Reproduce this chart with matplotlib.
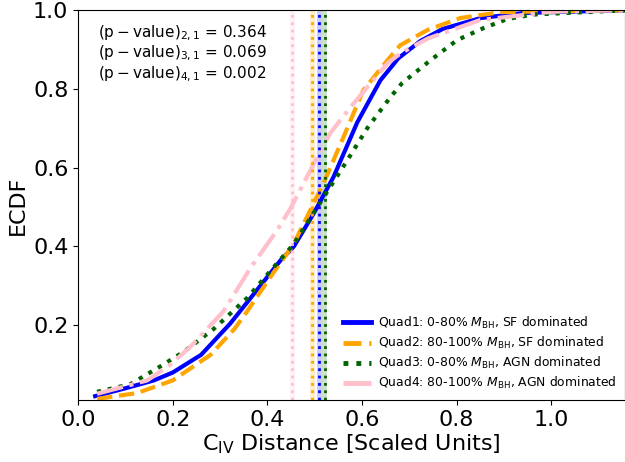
import numpy as np
import matplotlib
matplotlib.use('Agg')
import matplotlib.pyplot as plt

# ECDF curves (C_IV distance, ECDF)
q1_x = [0.036, 0.10, 0.16, 0.20, 0.26, 0.322, 0.385, 0.428, 0.456, 0.498, 0.540, 0.590, 0.639, 0.677, 0.724, 0.770, 0.851, 0.942, 1.16]
q1_y = [0.020, 0.040, 0.060, 0.080, 0.125, 0.205, 0.300, 0.365, 0.400, 0.484, 0.577, 0.715, 0.822, 0.878, 0.922, 0.952, 0.980, 0.993, 1.0]

q2_x = [0.04, 0.125, 0.20, 0.28, 0.33, 0.357, 0.412, 0.455, 0.519, 0.561, 0.603, 0.654, 0.681, 0.739, 0.808, 0.893, 1.16]
q2_y = [0.013, 0.028, 0.060, 0.125, 0.190, 0.235, 0.332, 0.405, 0.561, 0.678, 0.797, 0.873, 0.911, 0.950, 0.980, 0.995, 1.0]

q3_x = [0.04, 0.11, 0.18, 0.226, 0.286, 0.357, 0.421, 0.455, 0.519, 0.569, 0.611, 0.660, 0.685, 0.745, 0.801, 0.856, 0.908, 0.963, 1.16]
q3_y = [0.031, 0.050, 0.100, 0.135, 0.190, 0.269, 0.358, 0.405, 0.525, 0.619, 0.700, 0.779, 0.815, 0.873, 0.924, 0.954, 0.978, 0.989, 1.0]

q4_x = [0.04, 0.146, 0.195, 0.237, 0.307, 0.364, 0.421, 0.449, 0.491, 0.533, 0.576, 0.618, 0.654, 0.681, 0.739, 0.85, 1.0, 1.16]
q4_y = [0.026, 0.060, 0.100, 0.145, 0.235, 0.345, 0.442, 0.497, 0.594, 0.688, 0.754, 0.814, 0.865, 0.890, 0.928, 0.975, 0.996, 1.0]

# median markers (vertical lines) and their half-width bands
medians = [0.510, 0.495, 0.521, 0.453]
med_err = [0.005, 0.005, 0.005, 0.006]

pvals = [0.364, 0.069, 0.002]
pairs = ['2,1', '3,1', '4,1']

labels = [r'Quad1: 0-80% $M_{\rm BH}$, SF dominated',
          r'Quad2: 80-100% $M_{\rm BH}$, SF dominated',
          r'Quad3: 0-80% $M_{\rm BH}$, AGN dominated',
          r'Quad4: 80-100% $M_{\rm BH}$, AGN dominated']
colors = ['blue', 'orange', 'darkgreen', 'pink']
styles = ['-', '--', ':', '-.']

fig, ax = plt.subplots(figsize=(6.25, 4.62), dpi=100)
fig.subplots_adjust(left=0.125, right=1.0, top=0.978, bottom=0.134)

curves = [(q1_x, q1_y), (q2_x, q2_y), (q3_x, q3_y), (q4_x, q4_y)]
for (cx, cy), c, ls, lab in zip(curves, colors, styles, labels):
    ax.plot(cx, cy, color=c, ls=ls, lw=3, label=lab)

for m, e, c in zip(medians, med_err, colors):
    ax.axvline(m, color=c, ls=':', lw=2)
    ax.axvspan(m - e, m + e, color=c, alpha=0.2, lw=0)

txt = '\n'.join([r'$\mathrm{(p-value)_{%s}}$ = %.3f' % (p, v) for p, v in zip(pairs, pvals)])
ax.text(0.037, 0.965, txt, transform=ax.transAxes, fontsize=11, va='top', linespacing=1.07)

ax.set_xlim(0, 1.156)
ax.set_ylim(0.01, 1.0)
ax.set_xticks([0.0, 0.2, 0.4, 0.6, 0.8, 1.0])
ax.set_yticks([0.2, 0.4, 0.6, 0.8, 1.0])
ax.tick_params(labelsize=16)
ax.set_xlabel(r'C$_{\rm IV}$ Distance [Scaled Units]', fontsize=16, labelpad=2)
ax.set_ylabel('ECDF', fontsize=16)

leg = ax.legend(loc='lower right', fontsize=8.9, frameon=False, handlelength=2.3,
                handletextpad=0.55, labelspacing=0.33, borderaxespad=0.3)
for l in leg.get_lines():
    l.set_linewidth(3.5)

plt.savefig('out.png', dpi=100)
